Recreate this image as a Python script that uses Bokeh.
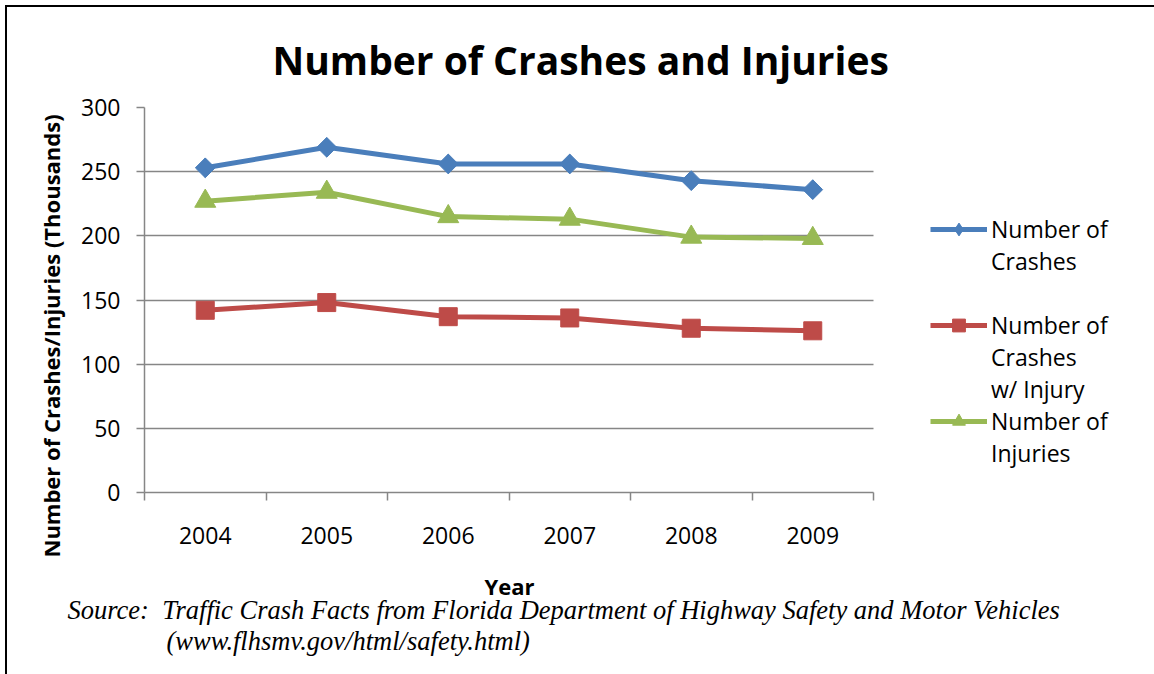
from bokeh.plotting import figure
from bokeh.models import Range1d, FixedTicker, Legend, LegendItem, Title, Grid
from bokeh.embed import file_html
from bokeh.resources import INLINE
import numpy as np

# ---- data ----
years = ["2004", "2005", "2006", "2007", "2008", "2009"]
crashes = [253, 269, 256, 256, 243, 236]
crashes_injury = [142, 148, 137, 136, 128, 126]
injuries = [227, 234, 215, 213, 199, 198]
y_ticks = [0, 50, 100, 150, 200, 250, 300]

title_text = "Number of Crashes and Injuries"
x_label = "Year"
y_label = "Number of Crashes/Injuries (Thousands)"
source_1 = "Source:\u00a0 Traffic Crash Facts from Florida Department of Highway Safety and Motor Vehicles"
source_2 = "(www.flhsmv.gov/html/safety.html)"
# legend labels, one entry per printed line (blank line keeps Excel's spacing)
legend_lines = [["Number of", "Crashes", " "],
                ["Number of", "Crashes", "w/ Injury"],
                ["Number of", "Injuries"]]

BLUE, RED, GREEN = "#4A7EBB", "#BE4B48", "#98B954"
GRID = "#868686"
FONT = "Open Sans"
SERIF = "Liberation Serif"

# layout: figure offset 7px by CSS; plot area 729px wide, legend sits to its right
W, H = 1147, 667
LEFT, TOP, BOTTOM = 137, 100, 182
PLOT_W = 729
n = len(years)
x_lo, x_hi = -0.5, n - 0.5
x_end = x_lo + (x_hi - x_lo) * (W - LEFT) / PLOT_W

p = figure(width=W, height=H, output_backend="svg", toolbar_location=None,
           x_range=Range1d(x_lo, x_end), y_range=Range1d(0, 300),
           min_border_left=LEFT, min_border_right=0, min_border_top=TOP,
           min_border_bottom=BOTTOM)
p.outline_line_color = None
p.background_fill_color = "white"
p.border_fill_color = "white"
p.styles = {"margin-left": "7px", "margin-top": "7px",
            "box-shadow": "-2px 0 0 0 black, 0 -2px 0 0 black, -2px -2px 0 0 black"}

xs = list(range(n))

# ---- title ----
p.title.text = title_text
p.title.align = "left"
p.title.offset = 128
p.title.standoff = 44
p.title.text_font = FONT
p.title.text_font_size = "39px"
p.title.text_font_style = "bold"
p.title.text_color = "black"

# ---- axes ----
p.xaxis.bounds = (x_lo, x_hi)
p.xaxis.ticker = FixedTicker(ticks=xs, minor_ticks=[i - 0.5 for i in range(n + 1)])
p.xaxis.major_label_overrides = {i: y for i, y in enumerate(years)}
p.xaxis.major_tick_line_color = None
p.xaxis.major_tick_out = 0
p.xaxis.major_tick_in = 0
p.xaxis.minor_tick_out = 8
p.xaxis.minor_tick_in = 0
p.xaxis.minor_tick_line_color = GRID
p.xaxis.minor_tick_line_width = 1.5
p.xaxis.major_label_standoff = 26
# spacer only: the visible "Year" title is placed under the plot area below
p.xaxis.axis_label = " "
p.xaxis.axis_label_standoff = 5

p.yaxis.ticker = FixedTicker(ticks=y_ticks)
p.yaxis.major_tick_out = 8
p.yaxis.major_tick_in = 0
p.yaxis.major_tick_line_color = GRID
p.yaxis.major_tick_line_width = 1.5
p.yaxis.minor_tick_line_color = None
p.yaxis.major_label_standoff = 16

for ax in (p.xaxis, p.yaxis):
    ax.axis_line_color = GRID
    ax.axis_line_width = 1.5
    ax.major_label_text_font = FONT
    ax.major_label_text_font_size = "23px"
    ax.major_label_text_color = "black"
    ax.axis_label_text_font = FONT
    ax.axis_label_text_color = "black"
p.xaxis.axis_label_text_font_size = "10px"

p.xgrid.visible = False
if "cross_bounds" in Grid.properties():
    p.ygrid.ticker = FixedTicker(ticks=y_ticks)
    p.ygrid.cross_bounds = (x_lo, x_hi)
    p.ygrid.grid_line_color = GRID
    p.ygrid.grid_line_width = 1.5
else:
    p.ygrid.visible = False
    p.segment(x0=x_lo, x1=x_hi, y0=y_ticks, y1=y_ticks,
              line_color=GRID, line_width=1.5, level="underlay")

# y-axis title (side title so it can sit off-centre like the original)
p.add_layout(Title(text=y_label, align="left", offset=-65, standoff=26,
                   text_font=FONT, text_font_size="22px", text_font_style="bold",
                   text_color="black"), "left")

# ---- series ----
l1 = p.line(xs, crashes, line_color=BLUE, line_width=5, line_join="round")
k1 = p.scatter(xs, crashes, marker="diamond", size=19,
               fill_color=BLUE, line_color=BLUE)
m1 = p.scatter(xs, crashes, marker="square", angle=np.pi / 4, size=14,
               fill_color=BLUE, line_color=BLUE)
l2 = p.line(xs, crashes_injury, line_color=RED, line_width=5, line_join="round")
m2 = p.scatter(xs, crashes_injury, marker="square", size=18,
               fill_color=RED, line_color=RED)
l3 = p.line(xs, injuries, line_color=GREEN, line_width=5, line_join="round")
m3 = p.scatter(xs, injuries, marker="triangle", size=21,
               fill_color=GREEN, line_color=GREEN)

series_renderers = [[l1, k1], [l2, m2], [l3, m3]]
items = []
for lines, rends in zip(legend_lines, series_renderers):
    items.append(LegendItem(label=lines[0], renderers=rends))
    for extra in lines[1:]:
        items.append(LegendItem(label=extra, renderers=[]))

legend = Legend(items=items, location=(PLOT_W + 57, 23), padding=0, margin=0, spacing=0,
                glyph_width=57, glyph_height=32, label_height=32, label_standoff=4,
                border_line_color=None, background_fill_alpha=0,
                label_text_font=FONT, label_text_font_size="23px",
                label_text_color="black")
p.add_layout(legend)

# ---- x-axis title, centred under the plot area ----
p.add_layout(Title(text=x_label, align="left", offset=340, standoff=0,
                   text_font=FONT, text_font_size="22px", text_font_style="bold",
                   text_color="black"), "below")

# ---- source note ----
p.add_layout(Title(text=source_1, align="left", offset=-77, standoff=-15,
                   text_font=SERIF, text_font_size="26.5px", text_font_style="italic",
                   text_color="black"), "below")
p.add_layout(Title(text=source_2, align="left", offset=22, standoff=12,
                   text_font=SERIF, text_font_size="26.5px", text_font_style="italic",
                   text_color="black"), "below")

open("out.html", "w").write(file_html(p, INLINE))
